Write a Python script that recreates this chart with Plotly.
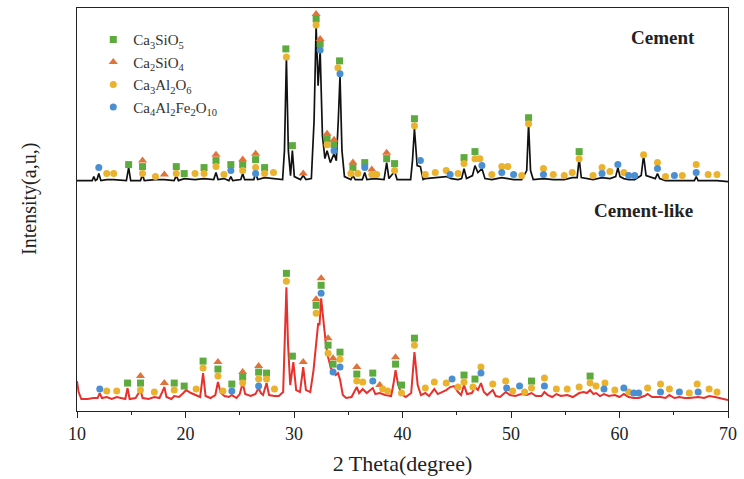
import plotly.graph_objects as go

# ---------------- data ----------------
# Cement (black) pattern: 2theta and intensity above its own baseline
cement_x = [10.0, 11.4, 11.55, 11.7, 11.85, 12.01, 12.2, 12.74, 13.38, 14.55, 14.76, 14.95, 15.85, 16.04, 16.2,
            17.23, 18.05, 18.95, 19.15, 19.35, 19.88, 20.88, 21.71, 22.6, 22.81, 23.0, 23.54, 24.0, 24.18, 24.35,
            25.1, 25.27, 25.45, 26.3, 26.46, 26.65, 27.29, 28.11, 28.95, 29.12, 29.30, 29.48, 29.68, 29.85, 30.03,
            30.6, 30.85, 31.1, 31.6, 31.85, 32.04, 32.22, 32.41, 32.62, 32.85, 33.05, 33.35, 33.69, 33.9, 34.08,
            34.24, 34.42, 34.65, 35.24, 35.43, 35.65, 36.3, 36.52, 36.72, 37.4, 38.3, 38.54, 38.75, 39.27, 39.5,
            40.75, 40.92, 41.10, 41.35, 41.65, 41.9, 42.1, 43.02, 44.03, 44.5, 45.12, 45.45, 45.67, 45.9, 46.45,
            46.68, 46.95, 47.32, 47.6, 48.23, 49.15, 49.7, 50.24, 50.98, 51.45, 51.62, 51.8, 52.05, 52.99, 53.9,
            54.91, 55.64, 56.1, 56.28, 56.48, 57.56, 58.39, 59.12, 59.65, 59.85, 60.05, 60.4, 60.85, 61.4, 62.0,
            62.22, 62.45, 63.3, 63.5, 63.7, 64.24, 65.06, 65.79, 66.9, 67.07, 67.25, 68.17, 68.99, 70.0]
cement_y = [0, 0, 4, 0, 1, 7, 0, 1, 1, 0, 13, 0, 0, 6, 0,
            1, 1, 0, 5, 0, 2, 1, 2, 1, 8, 1, 2, 0, 4, 0,
            1, 7, 1, 1, 8, 1, 3, 2, 1, 30, 123, 30, 5, 30, 4,
            1, 5, 1, 2, 60, 155, 95, 130, 45, 22, 30, 18, 27, 20, 60,
            105, 30, 4, 1, 5, 1, 1, 8, 1, 2, 1, 18, 2, 9, 1,
            1, 20, 52, 15, 14, 1, 2, 3, 4, 2, 1, 2, 12, 2, 5,
            15, 8, 12, 2, 1, 3, 2, 1, 1, 10, 57, 10, 1, 2, 1,
            1, 3, 3, 22, 3, 1, 3, 2, 4, 13, 4, 2, 1, 1, 5,
            25, 5, 2, 7, 2, 0, 0, 0, 0, 4, 0, 0, 0, -1]

# Cement-like (red) pattern
clike_x = [10.0, 10.15, 10.4, 11.0, 11.5, 11.9, 12.10, 12.3, 12.74, 13.2, 13.66, 14.45, 14.66, 14.85, 15.4,
           15.85, 16.05, 16.6, 17.13, 17.6, 17.85, 18.05, 18.25, 18.7, 18.96, 19.4, 19.8, 20.06, 20.5, 20.98,
           21.35, 21.62, 21.85, 22.3, 22.75, 22.99, 23.25, 23.6, 24.0, 24.27, 24.7, 25.0, 25.27, 25.5, 26.0,
           26.45, 26.74, 26.95, 27.15, 27.47, 27.7, 28.2, 28.6, 29.0, 29.15, 29.30, 29.45, 29.65, 29.94, 30.2,
           30.55, 30.85, 31.1, 31.5, 31.8, 32.04, 32.23, 32.35, 32.50, 32.7, 32.95, 33.14, 33.4, 33.6, 33.85,
           34.06, 34.25, 34.5, 34.8, 35.3, 35.79, 36.0, 36.34, 36.7, 37.26, 37.5, 37.9, 38.4, 38.95, 39.15,
           39.36, 39.6, 39.91, 40.3, 40.8, 41.10, 41.4, 41.7, 42.1, 42.45, 42.93, 43.25, 43.6, 44.03, 44.4,
           44.75, 45.12, 45.4, 45.67, 45.95, 46.4, 46.68, 46.95, 47.23, 47.5, 47.8, 48.32, 48.6, 49.0, 49.51,
           49.9, 50.4, 50.95, 51.45, 51.89, 52.3, 52.8, 53.08, 53.4, 53.8, 54.18, 54.6, 55.18, 55.7, 56.28,
           56.7, 57.0, 57.29, 57.6, 57.84, 58.2, 58.57, 59.0, 59.57, 60.0, 60.40, 60.85, 61.31, 61.77, 62.3,
           62.59, 63.0, 63.78, 64.24, 64.60, 65.06, 65.52, 66.0, 66.43, 67.25, 67.8, 68.26, 68.8, 69.3, 69.7, 70.0]
clike_y = [18, 7, 0, 0, 1, 1, 6, 1, 2, 0, 2, 0, 11, 0, 1,
           9, 1, 0, 2, 1, 7, 12, 2, 0, 3, 2, 6, 9, 6, 4,
           2, 26, 3, 1, 4, 17, 6, 3, 2, 4, 1, 5, 16, 5, 3,
           5, 11, 6, 4, 16, 4, 3, 3, 7, 55, 112, 55, 14, 37, 9,
           7, 32, 9, 7, 29, 55, 76, 74, 101, 80, 54, 42, 31, 27, 24,
           26, 19, 4, 1, 2, 12, 6, 10, 6, 11, 5, 6, 4, 3, 14,
           29, 14, 5, 2, 6, 47, 14, 4, 6, 3, 10, 5, 7, 9, 12,
           13, 7, 4, 14, 5, 6, 12, 9, 16, 7, 4, 9, 3, 2, 7,
           4, 3, 5, 4, 6, 3, 3, 7, 4, 2, 5, 3, 4, 2, 6,
           7, 6, 9, 5, 6, 3, 5, 3, 4, 2, 5, 2, 1, 1, 3,
           5, 2, 2, 1, 4, 1, 2, 1, 1, 2, 1, 3, 2, 1, 0, -1]

# vertical stacking offsets of the two patterns
cement_offset = 231
clike_offset = 12

# phase names
phases = ["Ca<sub>3</sub>SiO<sub>5</sub>", "Ca<sub>2</sub>SiO<sub>4</sub>",
          "Ca<sub>3</sub>Al<sub>2</sub>O<sub>6</sub>", "Ca<sub>4</sub>Al<sub>2</sub>Fe<sub>2</sub>O<sub>10</sub>"]

# phase markers (2theta, intensity above own baseline)
c3s_cement_x = [14.76, 16.04, 19.15, 19.88, 21.71, 22.81, 24.18, 25.27, 26.46, 27.29, 29.25, 29.85, 32.04,
                32.41, 33.05, 33.69, 34.2, 35.43, 36.52, 38.54, 39.27, 41.10, 45.67, 46.68, 51.62, 56.28]
c3s_cement_y = [16, 14, 14, 7, 13, 20, 16, 16, 21, 13, 132, 35, 162,
                137, 42, 36, 120, 13, 18, 22, 17, 62, 23, 29, 63, 29]
c2s_cement_x = [16.04, 18.05, 22.81, 25.27, 26.46, 30.85, 32.04, 32.41, 33.05, 33.69, 35.43, 37.17, 38.54]
c2s_cement_y = [20, 6, 26, 21, 27, 7, 167, 142, 47, 41, 18, 11, 28]
c3a_cement_x = [12.74, 13.38, 16.04, 17.23, 19.15, 20.88, 21.71, 22.81, 23.54, 25.27, 26.46, 27.29, 28.11,
                29.30, 32.04, 33.05, 34.05, 35.24, 35.88, 37.17, 37.62, 39.27, 41.10, 42.10, 43.02, 44.03,
                45.12, 45.67, 46.68, 47.13, 48.23, 49.15, 49.70, 50.98, 51.62, 52.99, 53.90, 54.91, 55.64,
                56.28, 57.56, 58.39, 59.12, 60.40, 62.22, 63.50, 64.24, 65.79, 67.07, 68.17, 68.99]
c3a_cement_y = [7, 7, 7, 4, 7, 7, 7, 14, 6, 10, 13, 7, 8,
                124, 156, 36, 113, 7, 7, 6, 6, 10, 55, 6, 8, 10,
                7, 17, 22, 22, 6, 14, 14, 5, 57, 12, 6, 5, 8,
                22, 5, 13, 9, 8, 26, 18, 4, 5, 16, 6, 6]
c4af_cement_x = [12.01, 24.18, 26.46, 32.41, 33.69, 34.24, 36.52, 41.65, 44.39, 47.32, 49.15, 50.24, 52.99,
                 58.39, 59.85, 60.85, 61.40, 63.50, 65.06, 67.07]
c4af_cement_y = [13, 10, 7, 131, 30, 107, 13, 20, 6, 15, 8, 6, 6,
                 7, 16, 5, 5, 12, 5, 8]

c3s_clike_x = [14.66, 15.85, 18.96, 19.88, 21.62, 22.99, 24.27, 25.27, 26.74, 27.47, 29.30, 29.85, 32.04,
               32.50, 33.14, 33.60, 34.24, 35.79, 37.26, 39.36, 39.91, 41.10, 45.67, 46.68, 51.89, 57.29]
c3s_clike_y = [16, 16, 16, 13, 38, 30, 15, 22, 27, 26, 126, 43, 94,
               114, 54, 35, 47, 25, 26, 35, 14, 61, 24, 20, 18, 23]
c2s_clike_x = [15.85, 18.05, 22.99, 25.27, 26.74, 30.85, 32.04, 32.50, 33.14, 33.60, 35.79, 37.90, 39.36]
c2s_clike_y = [23, 16, 37, 27, 33, 37, 100, 121, 61, 41, 32, 14, 42]
c3a_clike_x = [12.74, 13.66, 15.85, 17.13, 18.96, 20.98, 21.62, 22.99, 23.45, 25.27, 26.74, 27.47, 28.20,
               29.30, 32.04, 33.14, 34.24, 35.79, 36.34, 38.17, 38.63, 39.91, 41.10, 42.10, 42.93, 44.03,
               45.12, 45.67, 46.49, 47.23, 48.32, 49.51, 50.15, 51.25, 51.89, 53.08, 54.18, 55.18, 56.28,
               57.29, 57.84, 58.66, 59.57, 60.85, 62.59, 63.78, 64.60, 66.43, 67.16, 68.26, 68.99]
c3a_clike_y = [8, 8, 9, 7, 9, 10, 31, 23, 8, 16, 20, 20, 10,
               118, 86, 46, 40, 18, 17, 10, 8, 6, 54, 11, 17, 16,
               12, 17, 12, 32, 15, 18, 8, 7, 11, 21, 10, 10, 12,
               16, 13, 16, 9, 7, 11, 15, 10, 6, 15, 10, 7]
c4af_clike_x = [12.10, 24.27, 26.74, 32.50, 33.60, 34.24, 37.26, 44.57, 47.23, 49.60, 50.79, 53.08, 58.57,
                60.40, 61.31, 61.77, 63.78, 65.52, 67.25]
c4af_clike_y = [10, 8, 13, 106, 27, 32, 18, 20, 26, 11, 13, 13, 10,
                11, 6, 6, 7, 7, 7]

x_ticks = [10, 20, 30, 40, 50, 60, 70]

# ---------------- figure ----------------
serif = "Liberation Serif, Times New Roman, serif"
fig = go.Figure()

fig.add_trace(go.Scatter(x=cement_x, y=[v + cement_offset for v in cement_y], mode="lines",
                         line=dict(color="#111111", width=1.7), showlegend=False, hoverinfo="skip"))
fig.add_trace(go.Scatter(x=clike_x, y=[v + clike_offset for v in clike_y], mode="lines",
                         line=dict(color="#E8302C", width=2), showlegend=False, hoverinfo="skip"))

styles = [
    dict(symbol="square", color="#5DAA3E", size=7),
    dict(symbol="triangle-up", color="#E0733A", size=8),
    dict(symbol="circle", color="#EBB22E", size=7),
    dict(symbol="circle", color="#4B8FD3", size=7),
]
marker_sets = [
    (c3s_cement_x, c3s_cement_y, c3s_clike_x, c3s_clike_y),
    (c2s_cement_x, c2s_cement_y, c2s_clike_x, c2s_clike_y),
    (c3a_cement_x, c3a_cement_y, c3a_clike_x, c3a_clike_y),
    (c4af_cement_x, c4af_cement_y, c4af_clike_x, c4af_clike_y),
]
for name, st, (cx, cy, lx, ly) in zip(phases, styles, marker_sets):
    mk = dict(symbol=st["symbol"], color=st["color"], size=st["size"], line=dict(width=0))
    fig.add_trace(go.Scatter(x=cx, y=[v + cement_offset for v in cy], mode="markers", marker=mk,
                             name=name, legendgroup=name, showlegend=True))
    fig.add_trace(go.Scatter(x=lx, y=[v + clike_offset for v in ly], mode="markers", marker=mk,
                             name=name, legendgroup=name, showlegend=False))

fig.add_annotation(xref="paper", yref="paper", x=(667 - 77) / 656, y=(411 - 37) / 404,
                   xanchor="center", yanchor="middle", text="<b>Cement</b>",
                   showarrow=False, font=dict(family=serif, size=19, color="#222"))
fig.add_annotation(xref="paper", yref="paper", x=(648 - 77) / 656, y=(411 - 210) / 404,
                   xanchor="center", yanchor="middle", text="<b>Cement-like</b>",
                   showarrow=False, font=dict(family=serif, size=19, color="#222"))
fig.add_annotation(xref="paper", yref="paper", x=-(77 - 29) / 656, y=(411 - 198) / 404,
                   xanchor="center", yanchor="middle",
                   text="Intensity(a,u,)", textangle=-90, showarrow=False,
                   font=dict(family=serif, size=20, color="#222"))

fig.update_layout(
    width=744, height=479,
    margin=dict(l=77, r=11, t=7, b=68),
    paper_bgcolor="white", plot_bgcolor="white",
    font=dict(family=serif, color="#222"),
    showlegend=True,
    legend=dict(x=0.025, y=0.962, xanchor="left", yanchor="top", bgcolor="rgba(0,0,0,0)",
                font=dict(family=serif, size=15, color="#333"), tracegroupgap=0, itemwidth=30),
    xaxis=dict(range=[10, 70], tickvals=x_ticks, ticktext=[str(t) for t in x_ticks],
               ticks="outside", ticklen=6, tickwidth=1, tickcolor="#222",
               minor=dict(dtick=5, ticks="outside", ticklen=3, tickcolor="#222"),
               showline=True, linecolor="#222", linewidth=1.2, mirror=True,
               showgrid=False, zeroline=False,
               tickfont=dict(family=serif, size=18, color="#222"),
               title=dict(text="2 Theta(degree)", font=dict(family=serif, size=22, color="#222"), standoff=12)),
    yaxis=dict(range=[0, 404], showticklabels=False, ticks="", showgrid=False, zeroline=False,
               showline=True, linecolor="#222", linewidth=1.2, mirror=True),
)

fig.write_html("out.html", config={"displayModeBar": False},
               post_script="document.body.style.margin='0';document.body.style.padding='0';")
